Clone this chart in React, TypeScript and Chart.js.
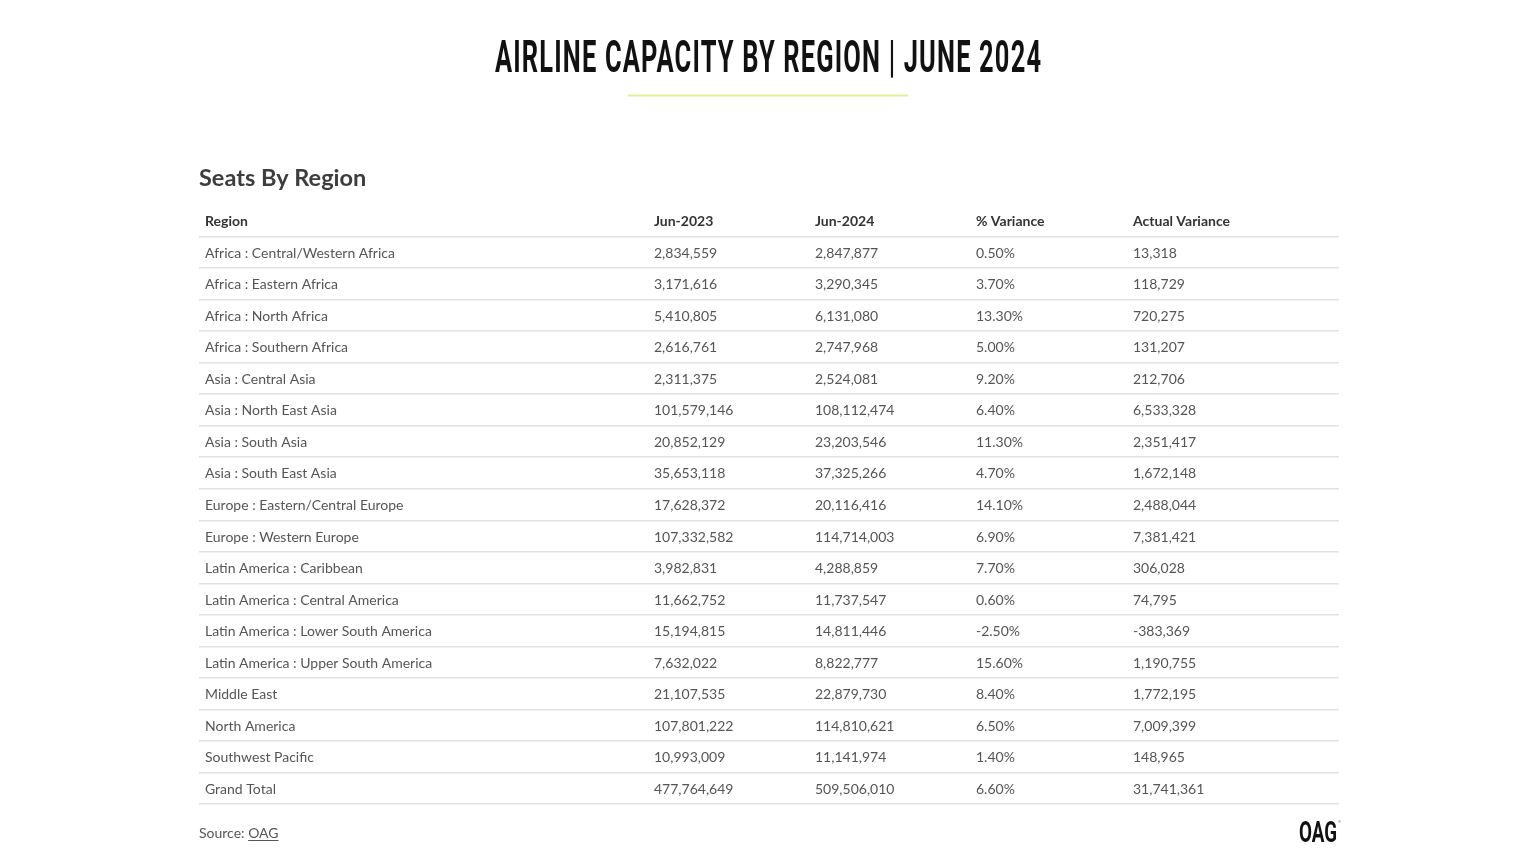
import React, { useEffect, useRef } from 'react';
import { Chart, registerables } from 'chart.js';

Chart.register(...registerables);

// ---------- data ----------
const chartTitle = 'AIRLINE CAPACITY BY REGION | JUNE 2024';
const tableTitle = 'Seats By Region';
const columns = ['Region', 'Jun-2023', 'Jun-2024', '% Variance', 'Actual Variance'];

const regions = [
  'Africa : Central/Western Africa',
  'Africa : Eastern Africa',
  'Africa : North Africa',
  'Africa : Southern Africa',
  'Asia : Central Asia',
  'Asia : North East Asia',
  'Asia : South Asia',
  'Asia : South East Asia',
  'Europe : Eastern/Central Europe',
  'Europe : Western Europe',
  'Latin America : Caribbean',
  'Latin America : Central America',
  'Latin America : Lower South America',
  'Latin America : Upper South America',
  'Middle East',
  'North America',
  'Southwest Pacific',
];
const jun2023 = [
  2834559, 3171616, 5410805, 2616761, 2311375, 101579146, 20852129, 35653118,
  17628372, 107332582, 3982831, 11662752, 15194815, 7632022, 21107535, 107801222, 10993009,
];
const jun2024 = [
  2847877, 3290345, 6131080, 2747968, 2524081, 108112474, 23203546, 37325266,
  20116416, 114714003, 4288859, 11737547, 14811446, 8822777, 22879730, 114810621, 11141974,
];
const pctVariance = [0.5, 3.7, 13.3, 5.0, 9.2, 6.4, 11.3, 4.7, 14.1, 6.9, 7.7, 0.6, -2.5, 15.6, 8.4, 6.5, 1.4];
const actualVariance = [
  13318, 118729, 720275, 131207, 212706, 6533328, 2351417, 1672148,
  2488044, 7381421, 306028, 74795, -383369, 1190755, 1772195, 7009399, 148965,
];
const totalLabel = 'Grand Total';
const totalRow = [477764649, 509506010, 6.6, 31741361];
const sourcePrefix = 'Source: ';
const sourceName = 'OAG';
const logoText = 'OAG';

// ---------- layout / style ----------
const W = 1536;
const H = 864;
const colOffsets = [6, 455, 616, 777, 934];
const tableWidth = 1140;
const BODY_FONT = 'Lato, "Source Sans Pro", sans-serif';

const fmtInt = (v: number) => v.toLocaleString('en-US');
const fmtPct = (v: number) => v.toFixed(2) + '%';

const rowKeys = [columns[0], ...regions, totalLabel];

function rowCells(r: number): string[] {
  if (r === 0) return columns;
  if (r === rowKeys.length - 1) {
    return [totalLabel, fmtInt(totalRow[0]), fmtInt(totalRow[1]), fmtPct(totalRow[2]), fmtInt(totalRow[3])];
  }
  const i = r - 1;
  return [regions[i], fmtInt(jun2023[i]), fmtInt(jun2024[i]), fmtPct(pctVariance[i]), fmtInt(actualVariance[i])];
}

const cellData: any[] = [];
rowKeys.forEach((key, r) => {
  rowCells(r).forEach((text, c) => {
    cellData.push({ x: colOffsets[c], y: key, text, header: r === 0 });
  });
});

function drawFitted(
  ctx: CanvasRenderingContext2D,
  text: string,
  font: string,
  cx: number,
  baseline: number,
  width: number,
  color: string,
  spacing = 0,
) {
  ctx.save();
  ctx.font = font;
  (ctx as any).letterSpacing = spacing + 'px';
  const m = ctx.measureText(text).width - spacing;
  const sx = width / m;
  ctx.translate(cx - width / 2, baseline);
  ctx.scale(sx, 1);
  ctx.fillStyle = color;
  ctx.textAlign = 'left';
  ctx.textBaseline = 'alphabetic';
  ctx.fillText(text, 0, 0);
  ctx.restore();
}

const tablePlugin = {
  id: 'tableText',
  afterDatasetsDraw(chart: any) {
    const ctx: CanvasRenderingContext2D = chart.ctx;
    const meta = chart.getDatasetMeta(0);
    const ds = chart.data.datasets[0].data as any[];
    ctx.save();
    ctx.textAlign = 'left';
    ctx.textBaseline = 'middle';
    meta.data.forEach((el: any, i: number) => {
      const d = ds[i];
      ctx.font = (d.header ? '700 ' : '400 ') + '14px ' + BODY_FONT;
      ctx.fillStyle = d.header ? '#333333' : '#555555';
      ctx.fillText(d.text, el.x, el.y + 1);
    });
    ctx.restore();
  },
  afterDraw(chart: any) {
    const ctx: CanvasRenderingContext2D = chart.ctx;
    const area = chart.chartArea;
    const cx = (area.left + area.right) / 2 - 1;
    // main title
    drawFitted(ctx, chartTitle, '700 44px Roboto, sans-serif', cx, 72, 546, '#111111', 2);
    // accent line
    ctx.save();
    ctx.strokeStyle = '#e2ef94';
    ctx.lineWidth = 2;
    ctx.beginPath();
    ctx.moveTo(cx - 140, 95.5);
    ctx.lineTo(cx + 140, 95.5);
    ctx.stroke();
    ctx.restore();
    // table title
    ctx.save();
    ctx.font = '700 23.5px ' + BODY_FONT;
    ctx.fillStyle = '#3d3d3d';
    ctx.textAlign = 'left';
    ctx.textBaseline = 'alphabetic';
    ctx.fillText(tableTitle, area.left, area.top - 19);
    // source
    ctx.font = '400 14px ' + BODY_FONT;
    ctx.fillStyle = '#555555';
    ctx.textBaseline = 'middle';
    const sy = area.bottom + 29;
    ctx.fillText(sourcePrefix, area.left, sy);
    const pw = ctx.measureText(sourcePrefix).width;
    ctx.fillText(sourceName, area.left + pw, sy);
    const nw = ctx.measureText(sourceName).width;
    ctx.strokeStyle = '#555555';
    ctx.lineWidth = 1;
    ctx.beginPath();
    ctx.moveTo(area.left + pw, sy + 7.5);
    ctx.lineTo(area.left + pw + nw, sy + 7.5);
    ctx.stroke();
    ctx.restore();
    // logo
    drawFitted(ctx, logoText, '700 30px Roboto, sans-serif', area.right - 21, area.bottom + 38, 38, '#111111');
    ctx.save();
    ctx.font = '400 4px sans-serif';
    ctx.fillStyle = '#444444';
    ctx.fillText('®', area.right - 1, area.bottom + 19);
    ctx.restore();
  },
};

export default function App() {
  const ref = useRef<HTMLCanvasElement | null>(null);
  useEffect(() => {
    if (!ref.current) return;
    const chart = new Chart(ref.current, {
      type: 'scatter',
      data: {
        datasets: [
          {
            data: cellData,
            pointRadius: 0,
            pointHoverRadius: 0,
            backgroundColor: 'transparent',
            borderColor: 'transparent',
          },
        ],
      },
      options: {
        responsive: false,
        animation: false,
        events: [],
        layout: { padding: { left: 199, right: W - 1339, top: 205, bottom: H - 804 } },
        plugins: { legend: { display: false }, tooltip: { enabled: false }, title: { display: false } },
        scales: {
          x: { type: 'linear', min: 0, max: tableWidth, display: false },
          y: {
            type: 'category',
            labels: rowKeys,
            offset: true,
            ticks: { display: false },
            border: { display: false },
            grid: {
              offset: true,
              drawTicks: false,
              lineWidth: 1.5,
              color: (c: any) => (c.index === 0 ? 'rgba(0,0,0,0)' : '#e2e2e2'),
            },
          },
        },
      } as any,
      plugins: [tablePlugin],
    });
    return () => chart.destroy();
  }, []);
  return (
    <div style={{ position: 'absolute', left: 0, top: 0, width: W, height: H, background: '#ffffff' }}>
      <canvas ref={ref} width={W} height={H} style={{ display: 'block' }} />
    </div>
  );
}
